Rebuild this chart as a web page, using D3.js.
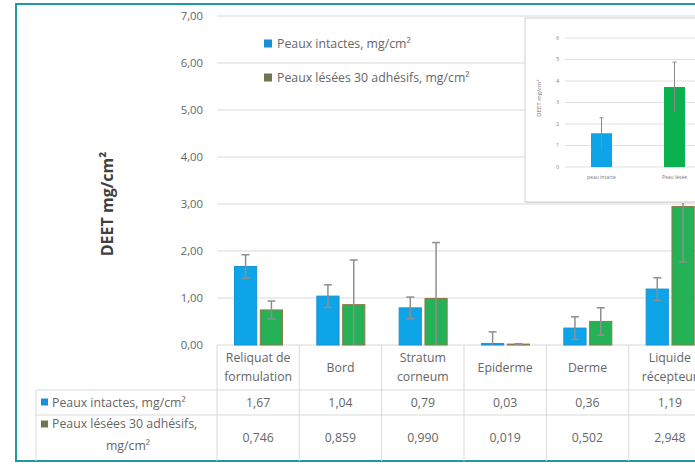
<!DOCTYPE html>
<html><head><meta charset="utf-8">
<script src="https://cdn.jsdelivr.net/npm/d3@7"></script>
<style>
html,body{margin:0;padding:0;background:#fff;overflow:hidden}
svg{display:block;font-family:"Open Sans","Noto Sans",sans-serif}
</style></head>
<body><svg id="c" width="695" height="464"></svg>
<script>
const categories = [["Reliquat de","formulation"],["Bord"],["Stratum","corneum"],["Epiderme"],["Derme"],["Liquide","récepteur"]];
const seriesNames = ["Peaux intactes, mg/cm²","Peaux lésées 30 adhésifs, mg/cm²"];
const intactValues = [1.67,1.04,0.79,0.03,0.36,1.19];
const leseesValues = [0.746,0.859,0.990,0.019,0.502,2.948];
const intactErr = [0.25,0.24,0.23,0.25,0.24,0.24];
const leseesErr = [0.19,0.95,1.19,0.01,0.29,1.18];
const yTicks = [0,1,2,3,4,5,6,7];
const insetCategories = ["peau intacte","Peau lésée"];
const insetValues = [1.57,3.72];
const insetErr = [0.72,1.16];
const insetTicks = [0,1,2,3,4,5,6];

const svg = d3.select("#c");
const fmt = d3.formatLocale({decimal:",",thousands:" ",grouping:[3],currency:["","€"]});
const f2 = fmt.format(".2f"), f3 = fmt.format(".3f");
const blue = "#0ea5e8", blueStroke = "#1790d6";
const green = "#25b257", greenStroke = "#8a7a45", greenKey = "#6f7650";
const txt = "#666666", grid = "#d9d9d9";
const fs = 12.3;

// frame
svg.append("rect").attr("x",16).attr("y",4).attr("width",700).attr("height",457)
  .attr("fill","#fff").attr("stroke","#1f9aa3").attr("stroke-width",2);

const y = d3.scaleLinear().domain([0,7]).range([345,16]);
const x0 = d3.scaleBand().domain(d3.range(categories.length)).range([217,711]);
const x1 = d3.scaleBand().domain([0,1]).range([17.5,65.5]).paddingInner(0.14);

// gridlines
svg.append("g").selectAll("line").data(yTicks).join("line")
  .attr("x1",217).attr("x2",720).attr("y1",d=>y(d)).attr("y2",d=>y(d))
  .attr("stroke",grid).attr("stroke-width",1);
// y tick labels
svg.append("g").selectAll("text").data(yTicks).join("text")
  .attr("x",203).attr("y",d=>y(d)).attr("dy","0.35em").attr("text-anchor","end")
  .attr("font-size",11.3).attr("fill",txt).text(d=>f2(d));
// y title
svg.append("text").attr("transform","translate(113,204) rotate(-90)")
  .attr("text-anchor","middle").attr("font-size",16).attr("font-weight","bold")
  .attr("fill","#404040").text("DEET mg/cm²");

// legend
const lg = svg.append("g");
seriesNames.forEach((n,i)=>{
  const yy = [44,78][i];
  lg.append("rect").attr("x",264).attr("y",yy-4.5).attr("width",8).attr("height",8)
    .attr("fill",i?greenKey:"#1a8fd8");
  lg.append("text").attr("x",277).attr("y",yy).attr("dy","0.35em")
    .attr("font-size",fs).attr("fill",txt).text(n);
});

// bars
const series = [
  {vals:intactValues, err:intactErr, fill:blue, stroke:blueStroke},
  {vals:leseesValues, err:leseesErr, fill:green, stroke:greenStroke}
];
const bars = svg.append("g");
series.forEach((s,si)=>{
  s.vals.forEach((v,ci)=>{
    const bx = x0(ci)+x1(si), bw = x1.bandwidth();
    bars.append("rect").attr("x",bx).attr("y",y(v)).attr("width",bw).attr("height",y(0)-y(v))
      .attr("fill",s.fill).attr("stroke",s.stroke).attr("stroke-width",1);
  });
});
// error bars
const eb = svg.append("g").attr("stroke","#8f8f8f").attr("stroke-width",1.5);
series.forEach((s,si)=>{
  s.vals.forEach((v,ci)=>{
    const cx = x0(ci)+x1(si)+x1.bandwidth()/2, e = s.err[ci];
    eb.append("line").attr("x1",cx).attr("x2",cx).attr("y1",y(Math.max(0,v-e))).attr("y2",y(v+e));
    eb.append("line").attr("x1",cx-4).attr("x2",cx+4).attr("y1",y(v+e)).attr("y2",y(v+e));
    if (v-e>0) eb.append("line").attr("x1",cx-4).attr("x2",cx+4).attr("y1",y(v-e)).attr("y2",y(v-e));
  });
});

// data table
const tb = svg.append("g");
const rowTop = 390, rowMid = 415, rowBot = 461;
const bounds = d3.range(categories.length+1).map(i=>i<categories.length?x0(i):x0.range()[1]);
bounds.forEach(bx=>{
  tb.append("line").attr("x1",bx).attr("x2",bx).attr("y1",345).attr("y2",rowBot).attr("stroke",grid);
});
tb.append("line").attr("x1",36).attr("x2",36).attr("y1",rowTop).attr("y2",rowBot).attr("stroke",grid);
[rowTop,rowMid].forEach(ry=>tb.append("line").attr("x1",36).attr("x2",720).attr("y1",ry).attr("y2",ry).attr("stroke",grid));
categories.forEach((c,ci)=>{
  const cx = x0(ci)+x0.bandwidth()/2;
  c.forEach((line,li)=>{
    tb.append("text").attr("x",cx).attr("y",(345+rowTop)/2+(li-(c.length-1)/2)*19).attr("dy","0.35em")
      .attr("text-anchor","middle").attr("font-size",fs).attr("fill",txt).text(line);
  });
  tb.append("text").attr("x",cx).attr("y",(rowTop+rowMid)/2).attr("dy","0.35em")
    .attr("text-anchor","middle").attr("font-size",fs).attr("fill",txt).text(f2(intactValues[ci]));
  tb.append("text").attr("x",cx).attr("y",(rowMid+rowBot)/2).attr("dy","0.35em")
    .attr("text-anchor","middle").attr("font-size",fs).attr("fill",txt).text(f3(leseesValues[ci]));
});
// row headers
tb.append("rect").attr("x",41).attr("y",398.5).attr("width",7).attr("height",7).attr("fill","#1a8fd8");
tb.append("text").attr("x",52).attr("y",(rowTop+rowMid)/2).attr("dy","0.35em")
  .attr("font-size",fs).attr("fill",txt).text("Peaux intactes, mg/cm²");
tb.append("rect").attr("x",41).attr("y",420.5).attr("width",7).attr("height",7).attr("fill",greenKey);
tb.append("text").attr("x",52).attr("y",424).attr("dy","0.35em")
  .attr("font-size",fs).attr("fill",txt).text("Peaux lésées 30 adhésifs,");
tb.append("text").attr("x",128).attr("y",446).attr("dy","0.35em").attr("text-anchor","middle")
  .attr("font-size",fs).attr("fill",txt).text("mg/cm²");

// inset chart
const ins = svg.append("g");
ins.append("rect").attr("x",526).attr("y",19).attr("width",200).attr("height",184)
  .attr("fill","#e8e8e8");
ins.append("rect").attr("x",525).attr("y",18).attr("width",200).attr("height",184)
  .attr("fill","#fff").attr("stroke","#cfcfcf").attr("stroke-width",1);
const iy = d3.scaleLinear().domain([0,6]).range([167,38]);
const ix = d3.scaleBand().domain(insetCategories).range([565,711]).paddingInner(0.5).paddingOuter(0.25);
ins.selectAll("line.g").data(insetTicks).join("line").attr("class","g")
  .attr("x1",565).attr("x2",720).attr("y1",d=>iy(d)).attr("y2",d=>iy(d))
  .attr("stroke","#e0e0e0");
ins.selectAll("text.t").data(insetTicks).join("text").attr("class","t")
  .attr("x",559).attr("y",d=>iy(d)).attr("dy","0.35em").attr("text-anchor","end")
  .attr("font-size",5).attr("fill","#777").text(d=>d);
ins.append("text").attr("transform","translate(541,98) rotate(-90)").attr("text-anchor","middle")
  .attr("font-size",6).attr("fill","#777").text("DEET mg/cm²");
const insColors = [blue,"#0bb04f"];
insetCategories.forEach((c,i)=>{
  const v = insetValues[i], e = insetErr[i], bw = 21;
  const cx = ix(c)+ix.bandwidth()/2;
  ins.append("rect").attr("x",cx-bw/2).attr("y",iy(v)).attr("width",bw).attr("height",iy(0)-iy(v))
    .attr("fill",insColors[i]);
  ins.append("line").attr("x1",cx).attr("x2",cx).attr("y1",iy(v-e)).attr("y2",iy(v+e))
    .attr("stroke","#8a8a8a").attr("stroke-width",1);
  ins.append("line").attr("x1",cx-2).attr("x2",cx+2).attr("y1",iy(v+e)).attr("y2",iy(v+e))
    .attr("stroke","#8a8a8a");
  ins.append("text").attr("x",cx).attr("y",177).attr("dy","0.35em").attr("text-anchor","middle")
    .attr("font-size",5).attr("fill","#777").text(c);
});
</script></body></html>
